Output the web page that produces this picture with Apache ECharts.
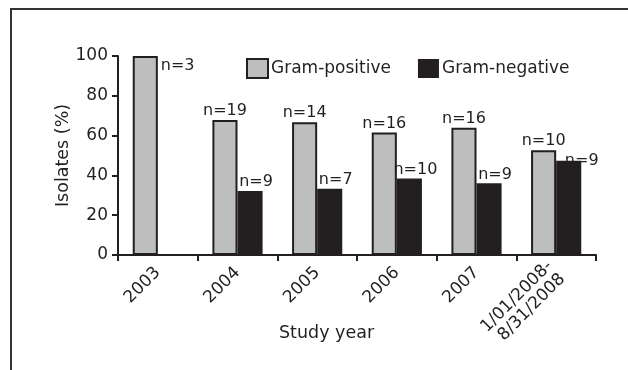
<!DOCTYPE html>
<html><head><meta charset="utf-8">
<script src="https://cdn.jsdelivr.net/npm/echarts@6/dist/echarts.min.js"></script>
<style>html,body{margin:0;padding:0;background:#fff}#c{width:628px;height:370px}</style>
</head><body><div id="c"></div>
<script>
const categories = ['2003', '2004', '2005', '2006', '2007', '1/01/2008-\n8/31/2008'];
const gramPositive = [100, 67.9, 66.7, 61.5, 64.0, 52.6];
const gramNegative = [0, 32.1, 33.3, 38.5, 36.0, 47.4];
const posLabels = ['n=3', 'n=19', 'n=14', 'n=16', 'n=16', 'n=10'];
const negLabels = ['', 'n=9', 'n=7', 'n=10', 'n=9', 'n=9'];
const yTicks = [0, 20, 40, 60, 80, 100];

const FONT = 'DejaVu Sans';
const DARK = '#231f20';
const chart = echarts.init(document.getElementById('c'));

const posData = gramPositive.map((v, i) => {
  const d = { value: v, label: { formatter: posLabels[i] } };
  if (i === 0) { d.label.position = [28, 2]; }
  return d;
});
const negData = gramNegative.map((v, i) => {
  const d = { value: v, label: { formatter: negLabels[i], show: v > 0 } };
  d.label.offset = [6, 0];
  if (i === 5) d.label.offset = [13, 9];
  return d;
});

chart.setOption({
  animation: false,
  textStyle: { fontFamily: FONT },
  graphic: [
    { type: 'rect', shape: { x: 11, y: 9, width: 700, height: 500 }, style: { fill: 'none', stroke: '#333', lineWidth: 2 }, z: -1 },
    { type: 'text', left: 279, top: 324, style: { text: 'Study year', font: '17.5px "DejaVu Sans"', fill: DARK } }
  ],
  legend: {
    left: 241, top: 53, itemWidth: 21, itemHeight: 19, itemGap: 27, icon: 'rect',
    textStyle: { fontSize: 17, color: DARK, fontFamily: FONT, padding: [0, 0, 0, -2] },
    data: ['Gram-positive', 'Gram-negative']
  },
  grid: { left: 118, top: 56, width: 478, height: 199, containLabel: false },
  xAxis: {
    type: 'category', data: categories,
    axisLine: { lineStyle: { color: DARK, width: 2 } },
    axisTick: { show: true, length: 6, lineStyle: { color: DARK, width: 2 } },
    axisLabel: { rotate: 45, fontSize: 17, color: DARK, margin: 15, interval: 0, lineHeight: 18 }
  },
  yAxis: {
    type: 'value', min: 0, max: 100, interval: 20,
    name: 'Isolates (%)', nameLocation: 'middle', nameGap: 46, nameMoveOverlap: false,
    nameTextStyle: { fontSize: 17.5, color: DARK },
    splitLine: { show: false },
    axisLine: { show: true, lineStyle: { color: DARK, width: 2 } },
    axisTick: { show: true, length: 6, lineStyle: { color: DARK, width: 2 } },
    axisLabel: { fontSize: 17, color: DARK, margin: 10, formatter: v => yTicks.includes(v) ? String(v) : '' }
  },
  series: [
    {
      name: 'Gram-positive', type: 'bar', data: posData, barGap: '0%', barCategoryGap: '37%',
      itemStyle: { color: '#bcbec0', borderColor: DARK, borderWidth: 2 },
      label: { show: true, position: 'top', distance: 1, fontSize: 16, color: DARK }
    },
    {
      name: 'Gram-negative', type: 'bar', data: negData,
      itemStyle: { color: DARK },
      label: { show: true, position: 'top', distance: 1, fontSize: 16, color: DARK }
    }
  ]
});
</script></body></html>
